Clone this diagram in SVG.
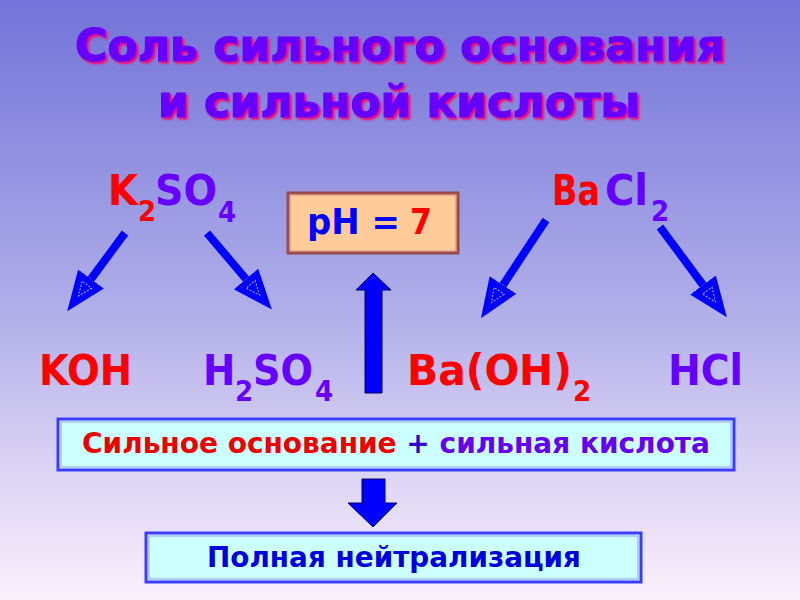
<svg xmlns="http://www.w3.org/2000/svg" width="800" height="600" viewBox="0 0 800 600">
  <defs>
    <linearGradient id="bg" x1="0" y1="0" x2="0" y2="1">
      <stop offset="0" stop-color="#7373D9"/>
      <stop offset="0.5" stop-color="#AEACE8"/>
      <stop offset="0.75" stop-color="#D6CFF2"/>
      <stop offset="1" stop-color="#FAF0FB"/>
    </linearGradient>
    <filter id="shadow" x="-5%" y="-30%" width="110%" height="160%">
      <feGaussianBlur in="SourceAlpha" stdDeviation="1"/>
      <feOffset dx="2" dy="2" result="blur"/>
      <feFlood flood-color="#FF0066"/>
      <feComposite in2="blur" operator="in" result="sh"/>
      <feMerge>
        <feMergeNode in="sh"/>
        <feMergeNode in="SourceGraphic"/>
      </feMerge>
    </filter>
    <marker id="head" viewBox="0 0 40 32" refX="0" refY="16" markerWidth="40" markerHeight="32" markerUnits="userSpaceOnUse" orient="auto">
      <path d="M0,0 L40,16 L0,32 Z" fill="#0000FF"/>
      <path d="M7,10 L21,16 L7,22 Z" fill="none" stroke="#B0B0FF" stroke-width="1" stroke-dasharray="2,1.5"/>
    </marker>
    <style>
      .t { font-family: "DejaVu Sans Condensed", "DejaVu Sans", "Liberation Sans", sans-serif; font-weight: bold; }
      .title { font-size: 45px; text-anchor: middle; fill: #6600FF; stroke: #6600FF; stroke-width: 1.2; }
      .f { font-size: 43px; }
      .sub { font-size: 29px; }
      .red { fill: #FF0000; }
      .pur { fill: #6600FF; }
      .blue { fill: #0000FF; }
      .diag { stroke: #0000FF; stroke-width: 8; fill: none; marker-end: url(#head); }
      .block { fill: #0000FF; stroke: #000066; stroke-width: 1; }
      .box { fill: #CCFFFF; stroke: #3C3CFF; stroke-width: 3; }
      .boxin { fill: none; stroke: #9A9AFF; stroke-width: 1; }
    </style>
  </defs>

  <rect x="0" y="0" width="800" height="600" fill="url(#bg)"/>

  <g id="title" class="t title" filter="url(#shadow)">
    <text x="400" y="61" textLength="650" lengthAdjust="spacingAndGlyphs">Соль сильного основания</text>
    <text x="399" y="117" textLength="482" lengthAdjust="spacingAndGlyphs">и сильной кислоты</text>
  </g>

  <g id="k2so4" class="t">
    <text class="f"><tspan class="red" x="108" y="205">K</tspan><tspan class="sub red" x="138" y="221">2</tspan><tspan class="pur" x="155" y="205" textLength="62" lengthAdjust="spacingAndGlyphs">SO</tspan><tspan class="sub pur" x="218" y="222">4</tspan></text>
  </g>

  <g id="bacl2" class="t">
    <text class="f"><tspan class="red" x="552" y="205" textLength="48" lengthAdjust="spacingAndGlyphs">Ba</tspan><tspan class="pur" x="605" y="205" textLength="43" lengthAdjust="spacingAndGlyphs">Cl</tspan><tspan class="sub pur" x="651" y="221">2</tspan></text>
  </g>

  <g id="ph">
    <rect x="288" y="193" width="170" height="60" fill="#FFCC99" stroke="#9A4A4A" stroke-width="3"/>
    <rect x="290" y="195" width="166" height="56" fill="none" stroke="#C88A7A" stroke-width="1"/>
    <text class="t" font-size="35" y="234"><tspan class="blue" x="307" textLength="93" lengthAdjust="spacingAndGlyphs">pH =</tspan><tspan class="red" x="410">7</tspan></text>
  </g>

  <g id="koh" class="t">
    <text class="f red" x="39" y="385" textLength="93" lengthAdjust="spacingAndGlyphs">KOH</text>
  </g>

  <g id="h2so4" class="t">
    <text class="f pur"><tspan x="203" y="385">H</tspan><tspan class="sub" x="235" y="401">2</tspan><tspan x="253" y="385" textLength="60" lengthAdjust="spacingAndGlyphs">SO</tspan><tspan class="sub" x="315" y="401">4</tspan></text>
  </g>

  <g id="baoh2" class="t">
    <text class="f red"><tspan x="407" y="385" textLength="165" lengthAdjust="spacingAndGlyphs">Ba(OH)</tspan><tspan class="sub" x="573" y="401">2</tspan></text>
  </g>

  <g id="hcl" class="t">
    <text class="f pur" x="668" y="385" textLength="75" lengthAdjust="spacingAndGlyphs">HCl</text>
  </g>

  <g id="strong">
    <rect class="box" x="58" y="419" width="676" height="51"/>
    <rect class="boxin" x="61" y="422" width="670" height="45"/>
    <text class="t" font-size="29" x="396" y="453" text-anchor="middle" textLength="628" lengthAdjust="spacingAndGlyphs"><tspan fill="#EE0000">Сильное основание</tspan><tspan fill="#3300CC"> + </tspan><tspan fill="#6600EE">сильная кислота</tspan></text>
  </g>

  <g id="neutral">
    <rect class="box" x="146" y="533" width="495" height="49"/>
    <rect class="boxin" x="149" y="536" width="489" height="43"/>
    <text class="t" font-size="29" x="394" y="567" text-anchor="middle" textLength="374" lengthAdjust="spacingAndGlyphs" fill="#0000DD">Полная нейтрализация</text>
  </g>

  <g id="connectors">
    <line class="diag" x1="125" y1="233" x2="91" y2="279"/>
    <line class="diag" x1="207" y1="233" x2="246" y2="279"/>
    <line class="diag" x1="546" y1="220" x2="503" y2="285"/>
    <line class="diag" x1="660" y1="227" x2="703" y2="285"/>
    <polygon class="block" points="373,273 391,290 382,290 382,393 365,393 365,290 356,290"/>
    <polygon class="block" points="362,479 385,479 385,503 397,503 373,527 348,503 362,503"/>
  </g>
</svg>
